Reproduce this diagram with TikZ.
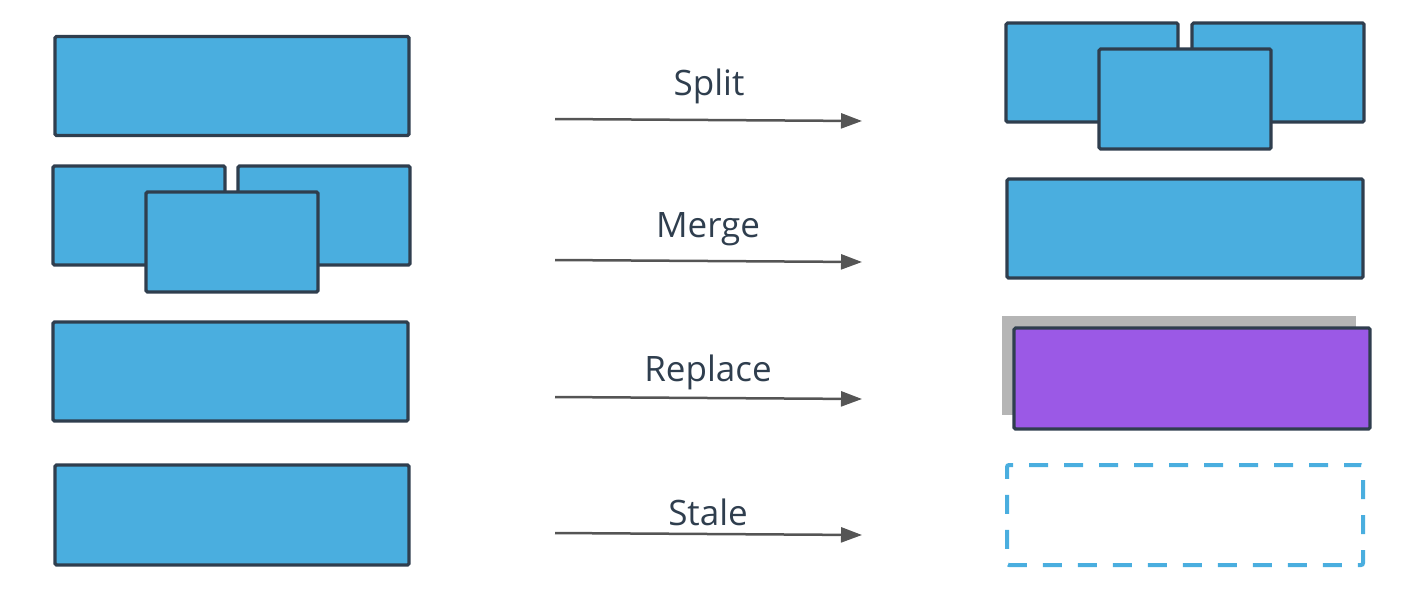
\documentclass[tikz,border=0pt]{standalone}
\usepackage{fontspec}
\setmainfont{Open Sans}
\usetikzlibrary{arrows.meta}
\definecolor{blk}{HTML}{4AAEDF}
\definecolor{edge}{HTML}{2F3E4E}
\definecolor{purp}{HTML}{9B59E6}
\definecolor{shade}{HTML}{B5B5B5}
\definecolor{arr}{HTML}{555555}
\definecolor{txt}{HTML}{2F3E4E}
\begin{document}
\begin{tikzpicture}[x=1pt,y=-1pt,
  box/.style={draw=edge,fill=blk,line width=3.2pt,rounded corners=1.5pt,inner sep=0pt,minimum width=#1},
  box/.default=354pt,
  wide/.style={box=354pt,minimum height=99pt},
  small/.style={box=172pt,minimum height=99pt},
  conn/.style={draw=arr,line width=2.5pt,-{Triangle[length=21pt,width=15pt]}},
  lbl/.style={text=txt,font=\fontsize{35}{42}\selectfont,inner sep=0pt}]
\useasboundingbox (0,0) rectangle (1418,608);
% left column
\node[wide] (l1) at (232,86) {};
\node[small] (l2a) at (139,215.5) {};
\node[small] (l2b) at (324,215.5) {};
\node[small,minimum height=100pt] (l2c) at (232,242) {};
\node[wide,minimum width=355pt] (l3) at (230.5,371.5) {};
\node[wide,minimum height=100pt] (l4) at (232,515) {};
% right column
\node[small] (r1a) at (1092,72.5) {};
\node[small] (r1b) at (1278,72.5) {};
\node[small,minimum height=100pt] (r1c) at (1185,99) {};
\node[wide,minimum width=356pt] (r2) at (1185,228.5) {};
\node[fill=shade,inner sep=0pt,minimum width=354pt,minimum height=99pt] (r3g) at (1179,365.5) {};
\node[wide,minimum width=356pt,minimum height=101pt,fill=purp] (r3) at (1192,378.5) {};
\node[draw=blk,line width=4pt,dash pattern=on 19pt off 16pt,dash phase=2pt,rounded corners=2pt,inner sep=0pt,minimum width=356pt,minimum height=100pt] (r4) at (1185,515) {};
% arrows
\coordinate (s1) at (555,119); \coordinate (e1) at (862,121);
\coordinate (s2) at (555,260); \coordinate (e2) at (862,262);
\coordinate (s3) at (555,397); \coordinate (e3) at (862,399);
\coordinate (s4) at (555,533); \coordinate (e4) at (862,535);
\draw[conn] (s1) -- (e1);
\draw[conn] (s2) -- (e2);
\draw[conn] (s3) -- (e3);
\draw[conn] (s4) -- (e4);
\node[lbl] (t1) at (709,86) {Split};
\node[lbl] (t2) at (708,229) {Merge};
\node[lbl] (t3) at (708,372) {Replace};
\node[lbl] (t4) at (708,512) {Stale};
\end{tikzpicture}
\end{document}
